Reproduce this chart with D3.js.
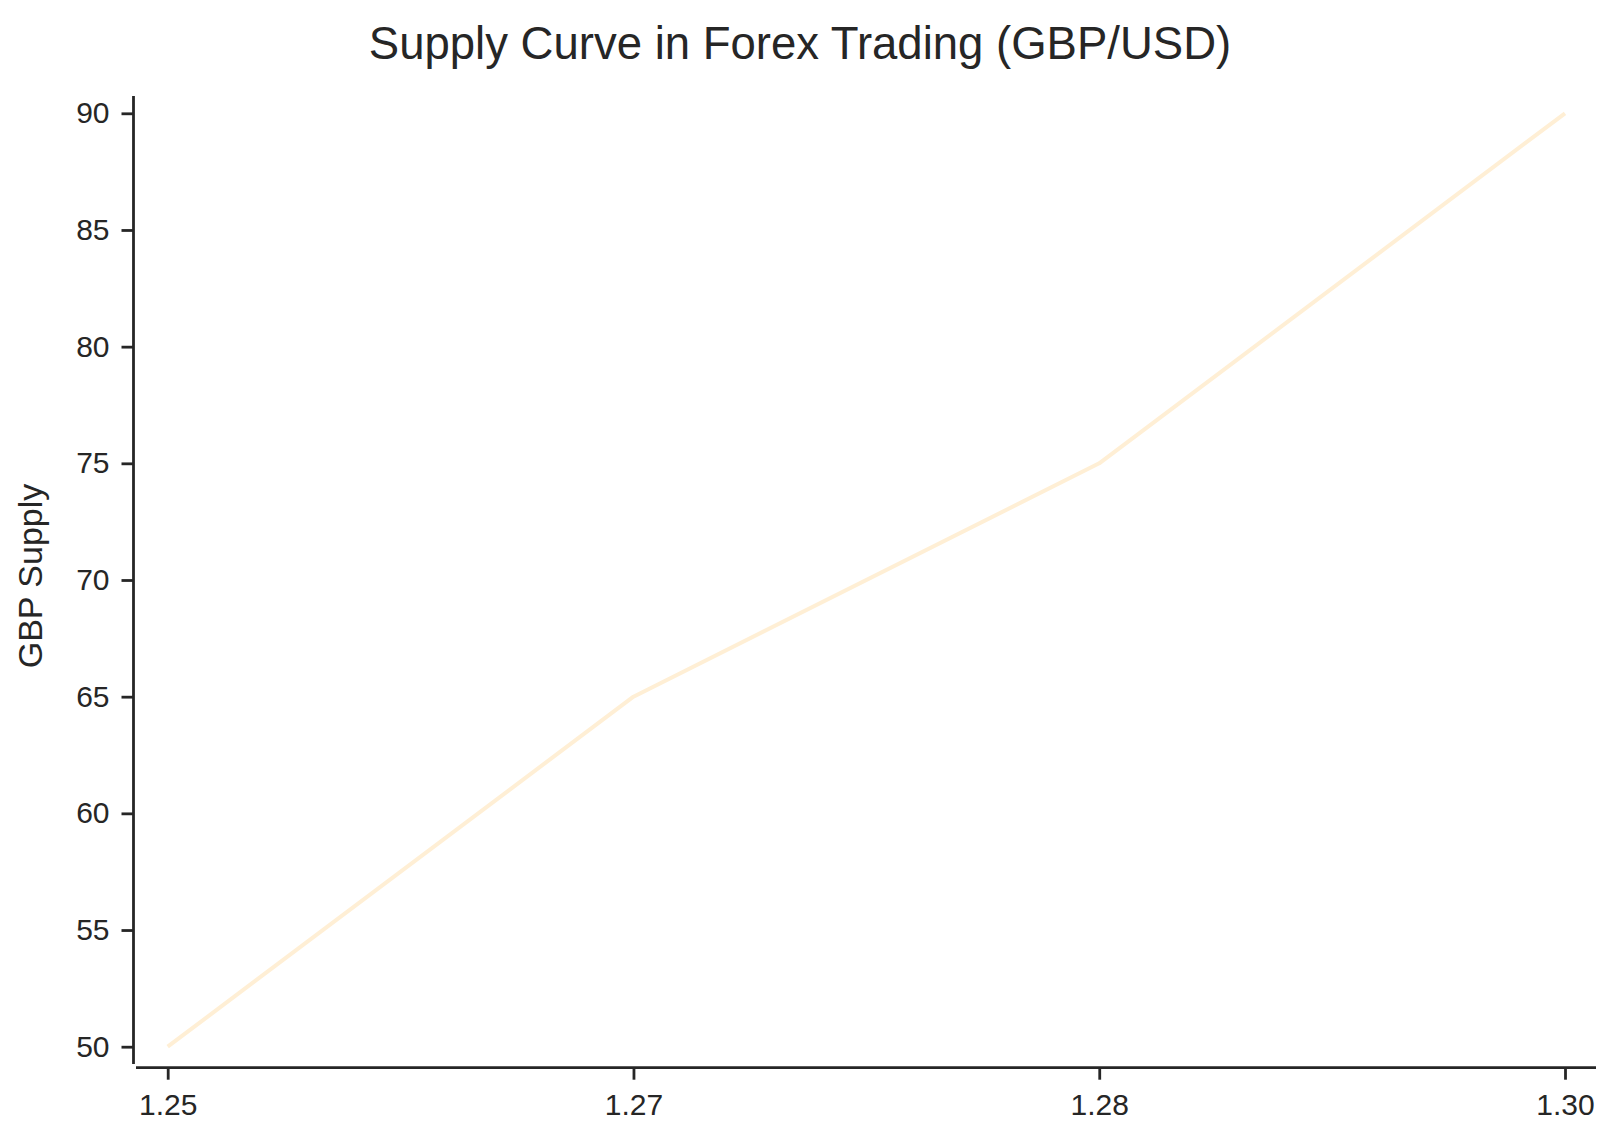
<!DOCTYPE html>
<html>
<head>
<meta charset="utf-8">
<script src="https://cdn.jsdelivr.net/npm/d3@7"></script>
<style>
  html, body { margin: 0; padding: 0; background: #ffffff; }
  svg { display: block; }
  text { font-family: "Liberation Sans", Arial, Helvetica, sans-serif; fill: #262626; }
</style>
</head>
<body>
<script>
// Data
const categories = ["1.25", "1.27", "1.28", "1.30"];
const supplyValues = [50, 65, 75, 90];
const yTickValues = [50, 55, 60, 65, 70, 75, 80, 85, 90];
const titleText = "Supply Curve in Forex Trading (GBP/USD)";
const yLabelText = "GBP Supply";

const W = 1600, H = 1143;
const ink = "#262626";

const svg = d3.select("body").append("svg")
  .attr("width", W).attr("height", H);

// Scales
const x = d3.scalePoint().domain(categories).range([167.7, 1565]);
const y = d3.scaleLinear().domain([50, 90]).range([1046.7, 113.3]);

// Y axis (offset, despined)
const yAxisX = 133.5;
const yAxis = d3.axisLeft(y).tickValues(yTickValues).tickSize(12).tickPadding(12).tickFormat(d3.format("d"));
const gy = svg.append("g").attr("transform", `translate(${yAxisX},0)`).call(yAxis);
gy.select(".domain").remove();
gy.append("line").attr("x1", 0).attr("x2", 0)
  .attr("y1", y(90.74)).attr("y2", y(49.26))
  .attr("stroke", ink).attr("stroke-width", 2.8);
gy.selectAll(".tick line").attr("stroke", ink).attr("stroke-width", 2.8);
gy.selectAll(".tick text").attr("font-size", 30).attr("fill", ink)
  .attr("font-family", "'Liberation Sans', Arial, sans-serif");

// X axis (offset, despined)
const xAxisY = 1067.7;
const xAxis = d3.axisBottom(x).tickSize(12).tickPadding(14);
const gx = svg.append("g").attr("transform", `translate(0,${xAxisY})`).call(xAxis);
gx.select(".domain").remove();
gx.append("line").attr("y1", 0).attr("y2", 0)
  .attr("x1", 136).attr("x2", 1596)
  .attr("stroke", ink).attr("stroke-width", 2.8);
gx.selectAll(".tick line").attr("stroke", ink).attr("stroke-width", 2.8);
gx.selectAll(".tick text").attr("font-size", 30).attr("fill", ink)
  .attr("font-family", "'Liberation Sans', Arial, sans-serif");

// Line
const data = categories.map((c, i) => ({ c, v: supplyValues[i] }));
svg.append("path").datum(data)
  .attr("fill", "none")
  .attr("stroke", "#FFEFD5")
  .attr("stroke-width", 4)
  .attr("stroke-linejoin", "round")
  .attr("d", d3.line().x(d => x(d.c)).y(d => y(d.v)));

// Title
svg.append("text")
  .attr("x", 800).attr("y", 59)
  .attr("text-anchor", "middle")
  .attr("font-size", 45.5)
  .text(titleText);

// Y label
svg.append("text")
  .attr("transform", `translate(42,576) rotate(-90)`)
  .attr("text-anchor", "middle")
  .attr("font-size", 34)
  .text(yLabelText);
</script>
</body>
</html>
